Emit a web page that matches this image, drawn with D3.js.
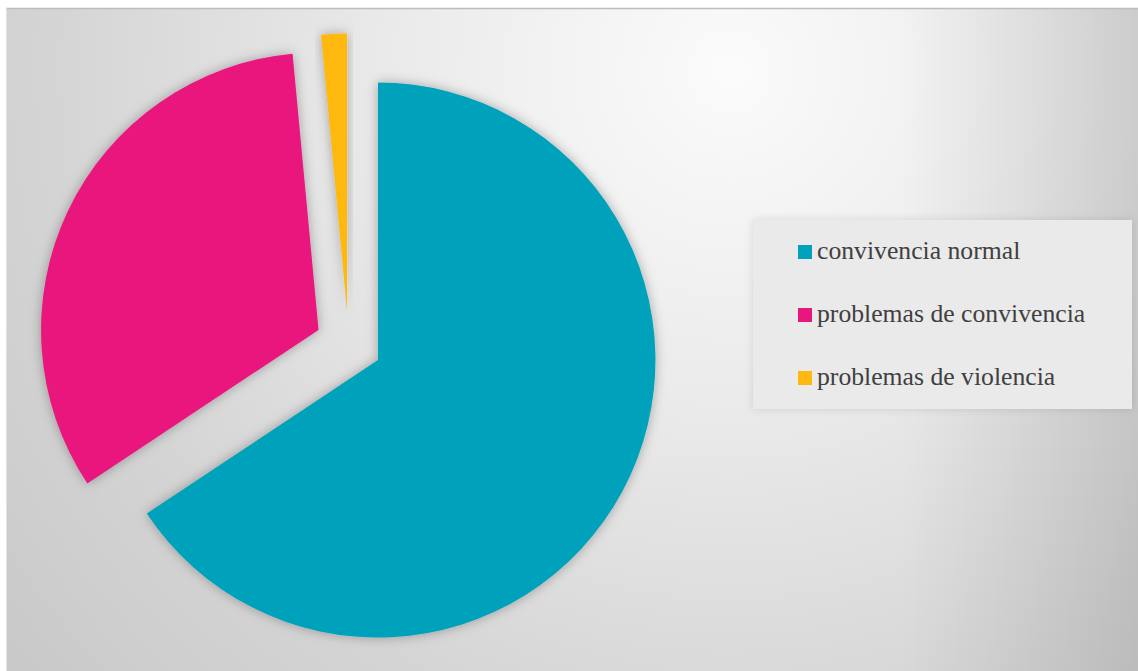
<!DOCTYPE html>
<html>
<head>
<meta charset="utf-8">
<script src="https://cdn.jsdelivr.net/npm/d3@7"></script>
<style>
  html, body { margin: 0; padding: 0; background: #ffffff; }
  svg { display: block; }
</style>
</head>
<body>
<svg id="chart" width="1138" height="671"></svg>
<script>
// Responses per category
const categories = ["convivencia normal", "problemas de convivencia", "problemas de violencia"];
const values = [44, 22, 1];
const colors = ["#00a1ba", "#e8177d", "#ffb80e"];

const W = 1138, H = 671;
const svg = d3.select("#chart");
const defs = svg.append("defs");

// Background shading of the chart area
const bg = defs.append("radialGradient").attr("id", "bgGrad")
  .attr("gradientUnits", "userSpaceOnUse")
  .attr("cx", 730).attr("cy", 70).attr("r", 930);
bg.append("stop").attr("offset", 0).attr("stop-color", "#fbfbfb");
bg.append("stop").attr("offset", 0.35).attr("stop-color", "#ebebeb");
bg.append("stop").attr("offset", 0.72).attr("stop-color", "#d5d5d5");
bg.append("stop").attr("offset", 1).attr("stop-color", "#c9c9c9");

const edge = defs.append("linearGradient").attr("id", "edgeGrad")
  .attr("gradientUnits", "userSpaceOnUse")
  .attr("x1", 900).attr("y1", 0).attr("x2", 1138).attr("y2", 0);
edge.append("stop").attr("offset", 0).attr("stop-color", "#000").attr("stop-opacity", 0);
edge.append("stop").attr("offset", 1).attr("stop-color", "#000").attr("stop-opacity", 0.11);

const shadow = defs.append("filter").attr("id", "softShadow")
  .attr("x", "-20%").attr("y", "-20%").attr("width", "140%").attr("height", "140%");
shadow.append("feDropShadow").attr("dx", 0).attr("dy", 0)
  .attr("stdDeviation", 6).attr("flood-color", "#000").attr("flood-opacity", 0.3);

const boxShadow = defs.append("filter").attr("id", "boxShadow")
  .attr("x", "-10%").attr("y", "-10%").attr("width", "120%").attr("height", "120%");
boxShadow.append("feDropShadow").attr("dx", 0).attr("dy", 0)
  .attr("stdDeviation", 4).attr("flood-color", "#000").attr("flood-opacity", 0.12);

// Chart area
svg.append("rect").attr("x", 6).attr("y", 8).attr("width", W - 6).attr("height", H - 8)
  .attr("fill", "url(#bgGrad)");
svg.append("rect").attr("x", 6).attr("y", 8).attr("width", W - 6).attr("height", H - 8)
  .attr("fill", "url(#edgeGrad)");
svg.append("line").attr("x1", 6).attr("x2", W).attr("y1", 8.5).attr("y2", 8.5)
  .attr("stroke", "#bdbdbd").attr("stroke-width", 1.5);
svg.append("line").attr("x1", 6.5).attr("x2", 6.5).attr("y1", 8).attr("y2", H)
  .attr("stroke", "#e2e2e2").attr("stroke-width", 1);

// Exploded pie
const cx = 348.6, cy = 344.3;
const radius = 277.5;
const explode = 33.3;

const pie = d3.pie().sort(null).value(d => d);
const arc = d3.arc().innerRadius(0).outerRadius(radius);
const arcs = pie(values);

const g = svg.append("g").attr("transform", `translate(${cx},${cy})`);
g.selectAll("path.slice")
  .data(arcs)
  .join("path")
  .attr("class", "slice")
  .attr("d", arc)
  .attr("fill", (d, i) => colors[i])
  .attr("filter", "url(#softShadow)")
  .attr("transform", d => {
    const mid = (d.startAngle + d.endAngle) / 2;
    return `translate(${explode * Math.sin(mid)},${-explode * Math.cos(mid)})`;
  });

// Legend
const legend = svg.append("g");
legend.append("rect")
  .attr("x", 753).attr("y", 220).attr("width", 379).attr("height", 189)
  .attr("fill", "#eaeaea")
  .attr("filter", "url(#boxShadow)");

const rowY = d3.scalePoint().domain(categories).range([259, 385]);
const items = legend.selectAll("g.item")
  .data(categories)
  .join("g")
  .attr("class", "item")
  .attr("transform", d => `translate(0,${rowY(d)})`);
items.append("rect")
  .attr("x", 798).attr("y", -14).attr("width", 14).attr("height", 14)
  .attr("fill", (d, i) => colors[i]);
items.append("text")
  .attr("x", 817).attr("y", 0)
  .attr("font-family", "'Liberation Serif', 'DejaVu Serif', serif")
  .attr("font-size", 25.7)
  .attr("fill", "#404040")
  .text(d => d);
</script>
</body>
</html>
